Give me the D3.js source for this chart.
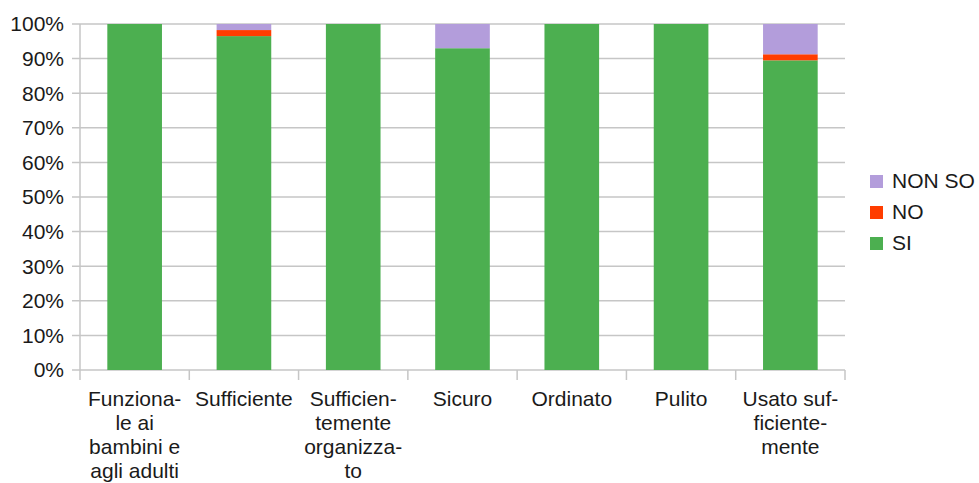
<!DOCTYPE html>
<html>
<head>
<meta charset="utf-8">
<script src="https://cdn.jsdelivr.net/npm/d3@7"></script>
<style>
  body { margin: 0; background: #fff; }
  text { font-family: "Liberation Sans", Arial, sans-serif; fill: #1a1a1a; }
</style>
</head>
<body>
<div id="chart"></div>
<script>
// categories, each split into the label lines used on the axis
const categories = ['Funzionale', 'Sufficiente', 'Sufficientemente organizzato', 'Sicuro', 'Ordinato', 'Pulito', 'Usato sufficientemente'];
const categoryLines = [
  ['Funziona-', 'le ai', 'bambini e', 'agli adulti'],
  ['Sufficiente'],
  ['Sufficien-', 'temente', 'organizza-', 'to'],
  ['Sicuro'],
  ['Ordinato'],
  ['Pulito'],
  ['Usato suf-', 'ficiente-', 'mente']
];
const seriesNames = ['SI', 'NO', 'NON SO'];
const si    = [100, 96.5, 100, 93.0, 100, 100, 89.5];
const no    = [0, 1.75, 0, 0, 0, 0, 1.75];
const nonSo = [0, 1.75, 0, 7.0, 0, 0, 8.75];
const yTicks = [0, 10, 20, 30, 40, 50, 60, 70, 80, 90, 100];
const colors = ['#4caf50', '#ff3d00', '#b39ddb'];

const width = 979, height = 483;
const margin = {top: 24, left: 80, right: 134, bottom: 113};
const innerW = width - margin.left - margin.right;
const innerH = height - margin.top - margin.bottom;
const fontSize = 21;

const rows = categories.map((c, i) => ({cat: c, SI: si[i], NO: no[i], 'NON SO': nonSo[i]}));
const stacked = d3.stack().keys(seriesNames)(rows);

const svg = d3.select('#chart').append('svg')
  .attr('width', width).attr('height', height);
const g = svg.append('g').attr('transform', `translate(${margin.left},${margin.top})`);

let x = d3.scaleBand().domain(categories).range([0, innerW]).paddingInner(0.5).paddingOuter(0.25);
let band = d3.scaleBand().domain(categories).range([0, innerW]);
let y = d3.scaleLinear().domain([0, 100]).range([innerH, 0]);

// gridlines
g.append('g').selectAll('line').data(yTicks).join('line')
  .attr('x1', -8).attr('x2', innerW)
  .attr('y1', d => y(d)).attr('y2', d => y(d))
  .attr('stroke', '#c6c6c6').attr('stroke-width', 1.5);

// y axis labels
g.append('g').selectAll('text').data(yTicks).join('text')
  .attr('x', -16).attr('y', d => y(d)).attr('dy', '0.35em')
  .attr('text-anchor', 'end').attr('font-size', fontSize)
  .text(d => d + '%');

// bars
g.append('g').selectAll('g').data(stacked).join('g')
  .attr('fill', (d, i) => colors[i])
  .selectAll('rect').data(d => d).join('rect')
    .attr('x', d => x(d.data.cat))
    .attr('width', x.bandwidth())
    .attr('y', d => y(d[1]))
    .attr('height', d => y(d[0]) - y(d[1]));

// axis lines
g.append('line').attr('x1', 0).attr('x2', 0).attr('y1', 0).attr('y2', innerH + 10)
  .attr('stroke', '#c6c6c6').attr('stroke-width', 1.5);
g.append('g').selectAll('line').data(categories).join('line')
  .attr('x1', (d, i) => band.step() * (i + 1)).attr('x2', (d, i) => band.step() * (i + 1))
  .attr('y1', innerH).attr('y2', innerH + 10)
  .attr('stroke', '#c6c6c6').attr('stroke-width', 1.5);

// x labels
const xl = g.append('g').selectAll('text').data(categories).join('text')
  .attr('text-anchor', 'middle').attr('font-size', fontSize)
  .attr('transform', d => `translate(${band(d) + band.bandwidth() / 2},${innerH + 36})`);
xl.selectAll('tspan').data((d, i) => categoryLines[i]).join('tspan')
  .attr('x', 0).attr('dy', (d, i) => i === 0 ? 0 : 24)
  .text(d => d);

// legend
const leg = svg.append('g').attr('transform', 'translate(870,181)');
const legOrder = seriesNames.slice().reverse();
leg.selectAll('rect').data(legOrder).join('rect')
  .attr('x', 0).attr('y', (d, i) => i * 31 - 6)
  .attr('width', 13).attr('height', 13)
  .attr('fill', d => colors[seriesNames.indexOf(d)]);
leg.selectAll('text').data(legOrder).join('text')
  .attr('x', 22).attr('y', (d, i) => i * 31).attr('dy', '0.35em')
  .attr('font-size', fontSize)
  .text(d => d);
</script>
</body>
</html>
